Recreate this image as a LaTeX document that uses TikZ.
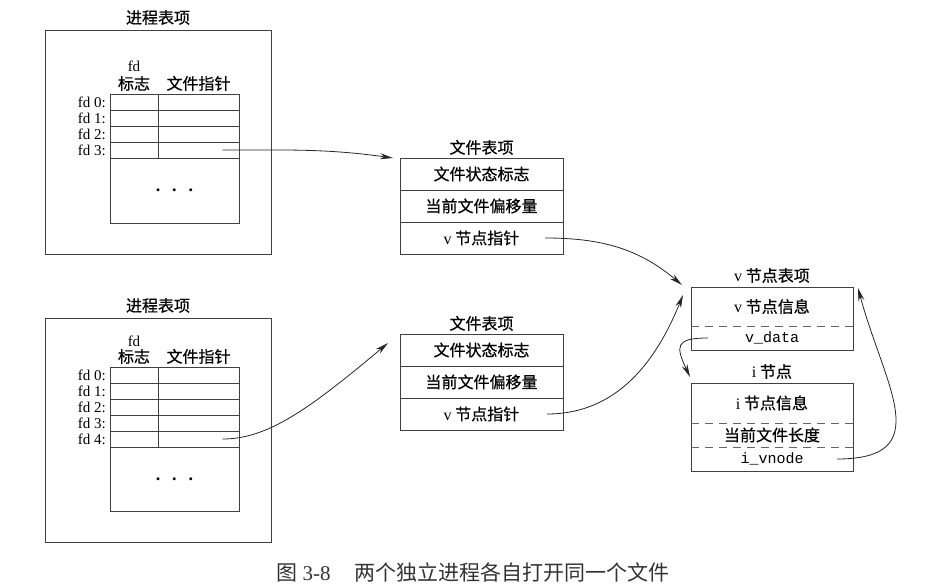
\documentclass[tikz,border=0pt]{standalone}
\usepackage{fontspec}
\setmainfont{Liberation Serif}
\setmonofont{Liberation Mono}
\newfontfamily\cjk{Noto Sans CJK SC}[FakeBold=0.6]
\newfontfamily\cjkcap{Noto Sans CJK SC}
\usetikzlibrary{arrows.meta, positioning, calc}
\tikzset{
  box/.style={rectangle, draw=black!75, line width=0.8pt, outer sep=0pt, inner sep=0pt},
  procbox/.style={box, minimum width=226pt, minimum height=224pt},
  cell/.style={box, minimum height=16pt},
  frow/.style={box, minimum width=163pt, minimum height=32pt, font=\fontsize{16pt}{18pt}\cjk},
  vcell/.style={rectangle, minimum width=162pt, inner sep=0pt, outer sep=0pt},
  vcjk/.style={vcell, font=\fontsize{16pt}{18pt}\cjk},
  vmono/.style={vcell, font=\fontsize{15pt}{17pt}\ttfamily},
  sep/.style={draw=black!60, line width=0.8pt, dash pattern=on 8pt off 6pt},
  title/.style={inner sep=2pt, font=\fontsize{16pt}{18pt}\cjk},
  fdlabel/.style={inner sep=2pt, font=\fontsize{15pt}{17pt}\selectfont},
  dots/.style={font=\fontsize{18pt}{18pt}\bfseries},
  link/.style={-{Stealth[length=13pt, width=6pt]}, line width=0.8pt, draw=black!85},
  caption/.style={inner sep=0pt, text=black!80, font=\fontsize{21pt}{23pt}\selectfont}
}

\begin{document}
\begin{tikzpicture}[x=1pt, y=-1pt]
    \useasboundingbox (0,0) rectangle (944,586);
    % first process
    \node[procbox] (procA) at (158,142) {};
    \node[title, above=3pt of procA] (procAt) {进程表项};
    \foreach \i in {0,...,3} {
      \node[cell, minimum width=48pt] (aflag\i) at (134,{102+16*\i}) {};
      \node[cell, minimum width=81pt, right=0pt of aflag\i] (aptr\i) {};
      \node[fdlabel, left=2pt of aflag\i] (alab\i) {fd \i:};
    }
    \node[cell, minimum width=129pt, minimum height=65pt, anchor=north west] (arest) at (aflag3.south west) {};
    \node[dots] (adots) at (arest.center) {.\hspace{12pt}.\hspace{12pt}.};
    \node[title, above=1pt of aflag0] (aflagh) {标志};
    \node[fdlabel, above=0pt of aflagh] (afd) {fd};
    \node[title, above=1pt of aptr0] (aptrh) {文件指针};
    % second process
    \node[procbox] (procB) at (158,430) {};
    \node[title, above=3pt of procB] (procBt) {进程表项};
    \foreach \i in {0,...,4} {
      \node[cell, minimum width=48pt] (bflag\i) at (134,{375+16*\i}) {};
      \node[cell, minimum width=81pt, right=0pt of bflag\i] (bptr\i) {};
      \node[fdlabel, left=2pt of bflag\i] (blab\i) {fd \i:};
    }
    \node[cell, minimum width=129pt, minimum height=64pt, anchor=north west] (brest) at (bflag4.south west) {};
    \node[dots] (bdots) at (brest.center) {.\hspace{12pt}.\hspace{12pt}.};
    \node[title, above=1pt of bflag0] (bflagh) {标志};
    \node[fdlabel, above=-2pt of bflagh] (bfd) {fd};
    \node[title, above=1pt of bptr0] (bptrh) {文件指针};
    % file tables
    \node[frow] (fA1) at (481.5,174) {文件状态标志};
    \node[frow, below=0pt of fA1] (fA2) {当前文件偏移量};
    \node[frow, below=0pt of fA2] (fA3) {\textrm{v} 节点指针};
    \node[title, above=1pt of fA1] (fAt) {文件表项};
    \node[frow] (fB1) at (481.5,350) {文件状态标志};
    \node[frow, below=0pt of fB1] (fB2) {当前文件偏移量};
    \node[frow, below=0pt of fB2] (fB3) {\textrm{v} 节点指针};
    \node[title, above=1pt of fB1] (fBt) {文件表项};
    % v-node and i-node
    \node[vcjk, minimum height=39pt] (vinfo) at (772,306.5) {\textrm{v} 节点信息};
    \node[vmono, minimum height=24pt, below=0pt of vinfo] (vdata) {v\_data};
    \draw[box] (vinfo.north west) rectangle (vdata.south east);
    \draw[sep] (vinfo.south west) -- (vinfo.south east);
    \node[title, above=2pt of vinfo] (vt) {\textrm{v} 节点表项};
    \node[vcjk, minimum height=40pt] (iinfo) at (772,403) {\textrm{i} 节点信息};
    \node[vcjk, minimum height=24pt, below=0pt of iinfo] (ilen) {当前文件长度};
    \node[vmono, minimum height=24pt, below=0pt of ilen] (ivnode) {i\_vnode};
    \draw[box] (iinfo.north west) rectangle (ivnode.south east);
    \draw[sep] (iinfo.south west) -- (iinfo.south east);
    \draw[sep] (ilen.south west) -- (ilen.south east);
    \node[title, above=2pt of iinfo] (it) {\textrm{i} 节点};
    % pointers
    \coordinate (aout) at ([xshift=24pt]aptr3.center);
    \coordinate (bout) at ([xshift=24pt]bptr4.center);
    \coordinate (fAout) at ([xshift=-18pt]fA3.east);
    \coordinate (fBout) at ([xshift=-16pt]fB3.east);
    \coordinate (vout) at ([xshift=17pt]vdata.west);
    \coordinate (iout) at ([xshift=-16pt]ivnode.east);
    \draw[link] (aout) to[out=0, in=172] ([xshift=-7pt]fA1.north west);
    \draw[link] (bout) to[out=0, in=-140, out looseness=0.6, in looseness=1.4] ([xshift=-12pt, yshift=-9pt]fB1.north west);
    \draw[link] (fAout) to[out=0, in=140] ([xshift=-9pt, yshift=2pt]vinfo.north west);
    \draw[link] (fBout) to[out=0, in=-112] ([xshift=-8pt, yshift=-8pt]vinfo.north west);
    \draw[link] (vout) to[out=180, in=115, looseness=2] ([xshift=-1pt, yshift=6pt]iinfo.north west);
    \draw[link] (iout) to[out=0, in=-75, looseness=1.5] ([xshift=5pt, yshift=-1pt]vinfo.north east);
    % caption
    \node[caption] (cap) at (473,572) {{\cjkcap 图} 3-8\hspace{24pt}{\cjkcap 两个独立进程各自打开同一个文件}};
\end{tikzpicture}
\end{document}
